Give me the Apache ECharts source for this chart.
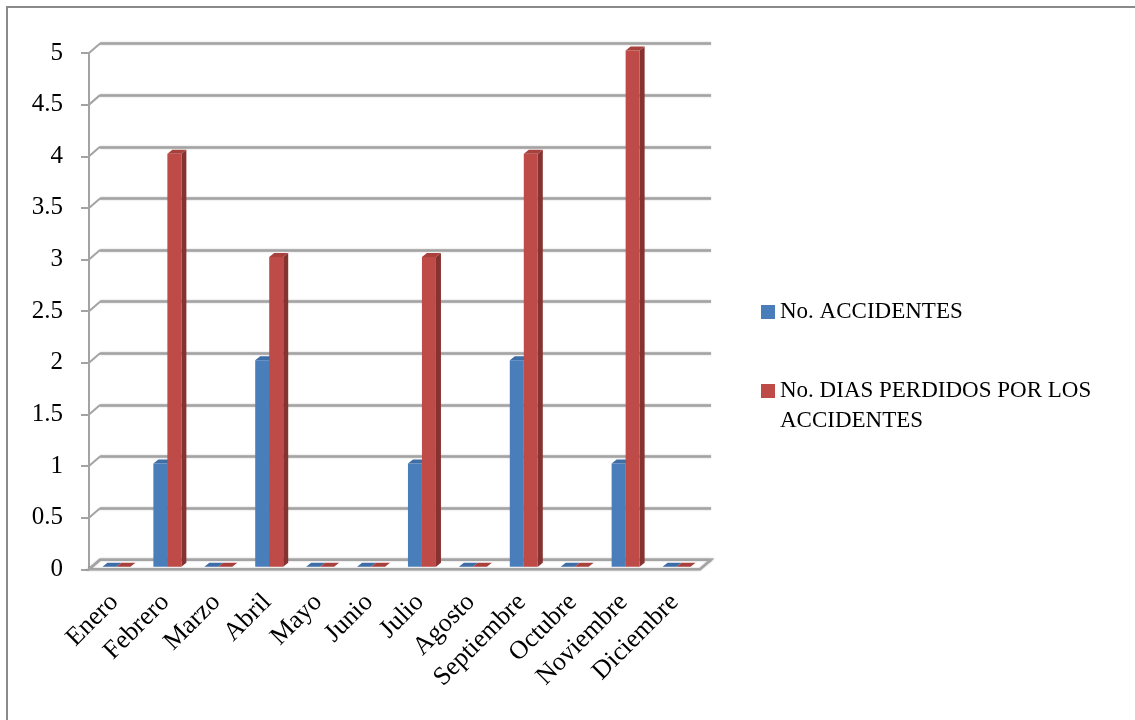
<!DOCTYPE html>
<html>
<head>
<meta charset="utf-8">
<script src="https://cdn.jsdelivr.net/npm/echarts@6/dist/echarts.min.js"></script>
<style>
  html, body { margin: 0; padding: 0; background: #fff; }
  #chart { width: 1135px; height: 720px; }
</style>
</head>
<body>
<div id="chart"></div>
<script>
// Monthly accident figures
const months = ['Enero', 'Febrero', 'Marzo', 'Abril', 'Mayo', 'Junio', 'Julio',
  'Agosto', 'Septiembre', 'Octubre', 'Noviembre', 'Diciembre'];
const accidentes = [0, 1, 0, 2, 0, 0, 1, 0, 2, 0, 1, 0];
const diasPerdidos = [0, 4, 0, 3, 0, 0, 3, 0, 4, 0, 5, 0];
const seriesNames = ['No. ACCIDENTES', 'No. DIAS PERDIDOS POR LOS ACCIDENTES'];
const yTicks = [0, 0.5, 1, 1.5, 2, 2.5, 3, 3.5, 4, 4.5, 5];

const FONT = 'Liberation Serif';
const GRID_COLOR = '#a3a3a3';
// pseudo-3D depth of the chart box (back wall offset) and of each column
const WALL_DX = 11, WALL_DY = -9.5;
const BAR_DX = 5, BAR_DY = -4;
const BAR_SHIFT_X = 2, BAR_SHIFT_Y = -2.5;
const BAR_FRAC = 0.275;

const faces = [
  { front: '#4a7ebb', side: '#335a88', top: '#3f6ea6' },
  { front: '#be4b48', side: '#853230', top: '#a8403d' }
];

function columnRenderer(seriesIdx) {
  return function (params, api) {
    const cat = api.value(0);
    const val = api.value(1);
    const catW = api.size([1, 0])[0];
    const w = catW * BAR_FRAC;
    const center = api.coord([cat, 0])[0];
    const x0 = center - w + seriesIdx * w + BAR_SHIFT_X;
    const x1 = x0 + w;
    const yb = api.coord([cat, 0])[1] + BAR_SHIFT_Y;
    const yt = api.coord([cat, val])[1] + BAR_SHIFT_Y;
    const f = faces[seriesIdx];
    const children = [];
    if (val > 0) {
      children.push({
        type: 'polygon',
        shape: { points: [[x1, yb], [x1 + BAR_DX, yb + BAR_DY], [x1 + BAR_DX, yt + BAR_DY], [x1, yt]] },
        style: { fill: f.side }
      });
      children.push({
        type: 'rect',
        shape: { x: x0, y: yt, width: w, height: yb - yt },
        style: { fill: f.front }
      });
    }
    children.push({
      type: 'polygon',
      shape: { points: [[x0, yt], [x1, yt], [x1 + BAR_DX, yt + BAR_DY], [x0 + BAR_DX, yt + BAR_DY]] },
      style: { fill: f.top }
    });
    return { type: 'group', children: children };
  };
}

// floor slab and the short diagonals joining the front ticks to the back wall lines
function frameRenderer(params, api) {
  const catW = api.size([1, 0])[0];
  const left = api.coord([0, 0])[0] - catW / 2;
  const right = api.coord([months.length - 1, 0])[0] + catW / 2;
  const floorY = api.coord([0, 0])[1];
  const children = [{
    type: 'polygon',
    shape: { points: [[left, floorY], [right, floorY], [right + WALL_DX, floorY + WALL_DY], [left + WALL_DX, floorY + WALL_DY]] },
    style: { fill: '#ffffff', stroke: GRID_COLOR, lineWidth: 2.5, shadowBlur: 2, shadowColor: 'rgba(0,0,0,0.25)' }
  }];
  yTicks.forEach(function (t) {
    const y = api.coord([0, t])[1];
    children.push({
      type: 'line',
      shape: { x1: left, y1: y, x2: left + WALL_DX, y2: y + WALL_DY },
      style: { stroke: GRID_COLOR, lineWidth: 2 }
    });
  });
  return { type: 'group', children: children };
}

const chart = echarts.init(document.getElementById('chart'), null, { renderer: 'canvas' });

const legendText = { fontFamily: FONT, fontSize: 23, color: '#000', lineHeight: 30 };

chart.setOption({
  animation: false,
  backgroundColor: '#ffffff',
  graphic: [{
    type: 'rect',
    shape: { x: 7, y: 7, width: 1140, height: 730 },
    style: { fill: 'none', stroke: '#8a8a8a', lineWidth: 2 },
    silent: true,
    z: -10
  }],
  legend: [{
    data: [seriesNames[0]],
    orient: 'vertical',
    left: 761,
    top: 297,
    padding: 0,
    icon: 'rect',
    itemWidth: 14,
    itemHeight: 14,
    itemGap: 0,
    textStyle: legendText
  }, {
    data: [seriesNames[1]],
    orient: 'vertical',
    left: 761,
    top: 346,
    padding: 0,
    icon: 'rect',
    itemWidth: 14,
    itemHeight: 14,
    itemGap: 0,
    // blank first line keeps the icon level with the first line of the wrapped name
    formatter: function () { return ' \nNo. DIAS PERDIDOS POR LOS\nACCIDENTES'; },
    textStyle: legendText
  }],
  grid: [
    { left: 89, top: 53, width: 611, height: 516.3 },
    { left: 89 + WALL_DX, top: 53 + WALL_DY, width: 611, height: 516.3 }
  ],
  xAxis: [{
    type: 'category',
    gridIndex: 0,
    data: months,
    axisLine: { show: false },
    axisTick: { show: false },
    axisLabel: {
      rotate: 45,
      margin: 29,
      interval: 0,
      fontFamily: FONT,
      fontSize: 26,
      color: '#000'
    }
  }, {
    type: 'category',
    gridIndex: 1,
    data: months,
    show: false
  }],
  yAxis: [{
    type: 'value',
    gridIndex: 0,
    min: 0,
    max: 5,
    interval: 0.5,
    axisLine: { show: true, lineStyle: { color: GRID_COLOR, width: 2 } },
    axisTick: { show: true, length: 8, lineStyle: { color: GRID_COLOR, width: 2 } },
    splitLine: { show: false },
    axisLabel: {
      margin: 26,
      fontFamily: FONT,
      fontSize: 25,
      color: '#000',
      padding: [10, 0, 0, 0]
    }
  }, {
    type: 'value',
    gridIndex: 1,
    min: 0,
    max: 5,
    interval: 0.5,
    axisLine: { show: false },
    axisTick: { show: false },
    axisLabel: { show: false },
    splitLine: {
      show: true,
      lineStyle: { color: GRID_COLOR, width: 2.5, shadowBlur: 2, shadowColor: 'rgba(0,0,0,0.25)' }
    }
  }],
  series: [{
    name: 'frame',
    type: 'custom',
    xAxisIndex: 0,
    yAxisIndex: 0,
    silent: true,
    clip: false,
    z: 1,
    renderItem: frameRenderer,
    data: [[0, 0]]
  }, {
    name: seriesNames[0],
    type: 'custom',
    xAxisIndex: 0,
    yAxisIndex: 0,
    clip: false,
    z: 3,
    itemStyle: { color: faces[0].front },
    renderItem: columnRenderer(0),
    encode: { x: 0, y: 1 },
    data: accidentes.map(function (v, i) { return [i, v]; })
  }, {
    name: seriesNames[1],
    type: 'custom',
    xAxisIndex: 0,
    yAxisIndex: 0,
    clip: false,
    z: 3,
    itemStyle: { color: faces[1].front },
    renderItem: columnRenderer(1),
    encode: { x: 0, y: 1 },
    data: diasPerdidos.map(function (v, i) { return [i, v]; })
  }]
});
</script>
</body>
</html>
